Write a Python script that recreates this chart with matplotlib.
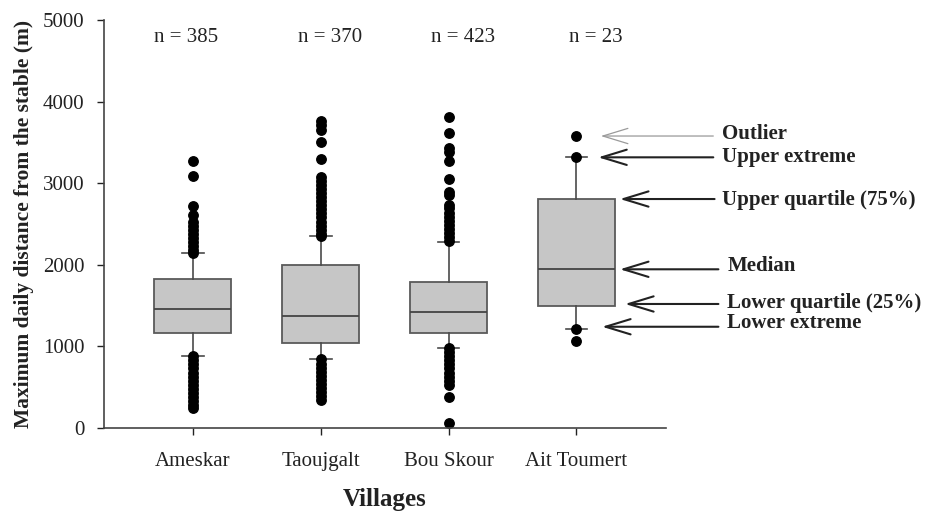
import matplotlib
matplotlib.use("Agg")
from matplotlib import pyplot as plt

plt.rcParams['font.family'] = ['Liberation Serif', 'DejaVu Serif']

# values (m)
villages = ['Ameskar', 'Taoujgalt', 'Bou Skour', 'Ait Toumert']
n_counts = [385, 370, 423, 23]
q1 = [1168, 1038, 1160, 1495]
median = [1455, 1372, 1425, 1945]
q3 = [1826, 1994, 1789, 2806]
whisk_lo = [886, 842, 984, 1210]
whisk_hi = [2141, 2353, 2275, 3317]

ameskar_out = [3276, 3084, 2720, 2610, 2530, 2480, 2430, 2380, 2330, 2280,
               2230, 2180, 2140, 880, 830, 780, 730, 680, 630, 580, 530,
               480, 430, 380, 330, 280, 240]
taoujgalt_out = [3766, 3710, 3652, 3501, 3297, 3080, 3030, 2980, 2930, 2880,
                 2830, 2780, 2730, 2680, 2630, 2580, 2530, 2480, 2430, 2380,
                 2350, 840, 790, 740, 690, 640, 590, 540, 490, 440, 390, 345]
bouskour_out = [3815, 3619, 3427, 3386, 3272, 3051, 2896, 2855, 2733, 2690,
                2640, 2590, 2540, 2490, 2440, 2390, 2340, 2290, 980, 930,
                880, 830, 780, 730, 680, 630, 580, 530, 376, 57]
aittoumert_out = [3578, 3317, 1210, 1070]
outliers = [ameskar_out, taoujgalt_out, bouskour_out, aittoumert_out]

# legend-like key next to the last box
key_labels = ['Outlier', 'Upper extreme', 'Upper quartile (75%)', 'Median',
              'Lower quartile (25%)', 'Lower extreme']
key_arrow_y = [3578, 3317, 2806, 1945, 1520, 1241]
key_tip_x = [4.19, 4.17, 4.34, 4.34, 4.38, 4.20]
key_text_y = [3600, 3325, 2794, 1989, 1528, 1290]
key_text_x = [5.14, 5.14, 5.14, 5.18, 5.18, 5.18]
key_line_x = [5.07, 5.07, 5.08, 5.11, 5.11, 5.11]

fig = plt.figure(figsize=(9.3, 5.12), dpi=100)
ax = fig.add_axes([0.1118, 0.164, 0.6043, 0.797])

stats = []
for i in range(len(villages)):
    stats.append(dict(med=median[i], q1=q1[i], q3=q3[i],
                      whislo=whisk_lo[i], whishi=whisk_hi[i],
                      fliers=outliers[i]))

ax.bxp(stats, positions=[1, 2, 3, 4], widths=0.6, patch_artist=True,
       showfliers=True,
       boxprops=dict(facecolor='#c6c6c6', edgecolor='#5a5a5a', linewidth=1.3),
       medianprops=dict(color='#444444', linewidth=1.3),
       whiskerprops=dict(color='#4a4a4a', linewidth=1.2),
       capprops=dict(color='#4a4a4a', linewidth=1.2),
       capwidths=0.17,
       flierprops=dict(marker='o', markerfacecolor='black',
                       markeredgecolor='black', markersize=6.8))

ax.set_xlim(0.306, 4.70)
ax.set_ylim(0, 5000)
ax.set_yticks([0, 1000, 2000, 3000, 4000, 5000])
ax.set_xticks([1, 2, 3, 4])
ax.set_xticklabels(villages)
ax.tick_params(axis='both', labelsize=15, colors='#222222', length=5,
               width=1)
ax.tick_params(axis='y', pad=9)
ax.tick_params(axis='x', pad=12)

for s in ['top', 'right']:
    ax.spines[s].set_visible(False)
for s in ['left', 'bottom']:
    ax.spines[s].set_color('#444444')
    ax.spines[s].set_linewidth(1.2)

ax.set_ylabel('Maximum daily distance from the stable (m)', fontsize=15.5,
              fontweight='bold', color='#222222')
ax.yaxis.set_label_coords(-0.125, 0.5)
ax.text(0.5, -0.19, 'Villages', transform=ax.transAxes, ha='center',
        va='baseline', fontsize=18, fontweight='bold', color='#222222')

n_x = [0.95, 2.07, 3.11, 4.15]
for x, n in zip(n_x, n_counts):
    ax.text(x, 4785, 'n = %d' % n, ha='center', va='center', fontsize=15,
            color='#222222')

for i, lab in enumerate(key_labels):
    col = '#9a9a9a' if lab == 'Outlier' else '#222222'
    lw = 0.9 if lab == 'Outlier' else 1.5
    ax.annotate('', xy=(key_tip_x[i], key_arrow_y[i]),
                xytext=(key_line_x[i], key_arrow_y[i]),
                annotation_clip=False,
                arrowprops=dict(arrowstyle='->, head_length=1.8, head_width=0.55',
                                color=col, lw=lw, shrinkA=0, shrinkB=0,
                                mutation_scale=10))
    ax.text(key_text_x[i], key_text_y[i], lab, ha='left', va='center',
            fontsize=15, fontweight='bold', color='#222222', clip_on=False)

fig.savefig('out.png', dpi=100, facecolor='white')
